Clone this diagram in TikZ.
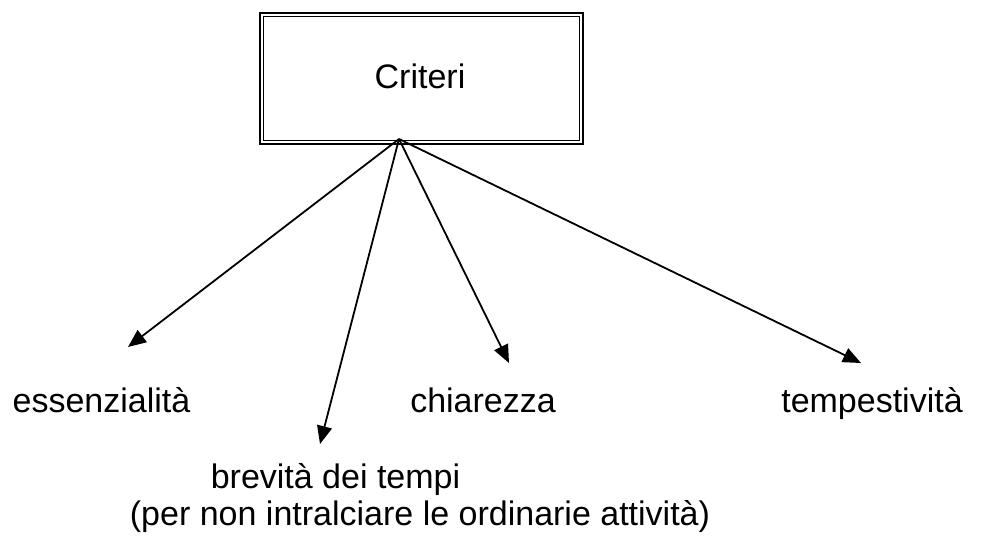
\documentclass[tikz,border=0pt]{standalone}
\usepackage{fontspec}
\setmainfont{Liberation Sans}
\usetikzlibrary{arrows.meta,calc}
\begin{document}
\begin{tikzpicture}[x=1pt,y=-1pt,
  lbl/.style={anchor=base,inner sep=0pt,font=\fontsize{34}{37}\selectfont},
  conn/.style={line width=1.8pt,-{Triangle[length=18pt,width=15pt]}},
  outerbox/.style={draw,line width=2.2pt,outer sep=0pt,minimum width=323pt,minimum height=131pt,inner sep=0pt}
]
\useasboundingbox (0,0) rectangle (984,536);
\node[outerbox] (crit) at (421.5,78.5) {};
\draw[line width=1.2pt] ($(crit.north west)+(3.8,3.8)$) rectangle ($(crit.south east)+(-3.8,-3.8)$);
\node[lbl] (crittxt) at (420,88) {Criteri};
\coordinate (o) at (399,139);
\node[lbl] (ess) at (101.5,412) {essenzialità};
\node[lbl] (chi) at (483,412) {chiarezza};
\node[lbl] (tem) at (872,412) {tempestività};
\node[lbl] (bre) at (335.5,488) {brevità dei tempi};
\node[lbl] (per) at (420,525) {(per non intralciare le ordinarie attività)};
\coordinate (tess) at (128,347);
\coordinate (tbre) at (320,444);
\coordinate (tchi) at (509,363);
\coordinate (ttem) at (861,363);
\draw[conn] (o) -- (tess);
\draw[conn] (o) -- (tbre);
\draw[conn] (o) -- (tchi);
\draw[conn] (o) -- (ttem);
\end{tikzpicture}
\end{document}
